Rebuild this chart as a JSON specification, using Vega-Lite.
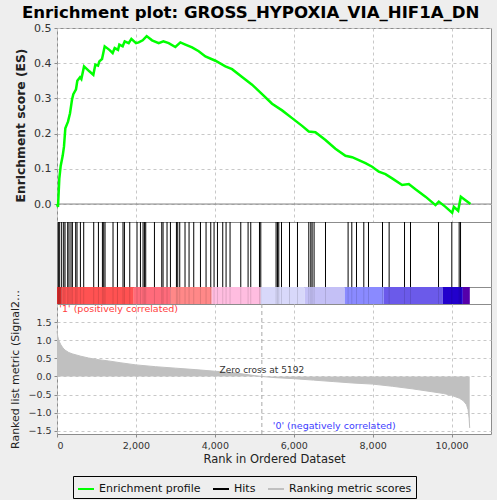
{
  "$schema": "https://vega.github.io/schema/vega-lite/v6.json",
  "padding": {"left": 9, "top": 4, "right": 5, "bottom": 2},
  "title": {
    "text": "Enrichment plot: GROSS_HYPOXIA_VIA_HIF1A_DN",
    "font": "DejaVu Sans",
    "fontSize": 16.6,
    "fontWeight": "bold",
    "color": "black",
    "anchor": "middle",
    "offset": 0
  },
  "datasets": {
    "es": [
      {"rank": 0, "es": 0}, {"rank": 25, "es": -0.008}, {"rank": 59, "es": 0.073}, {"rank": 93, "es": 0.108},
      {"rank": 144, "es": 0.137}, {"rank": 177, "es": 0.163}, {"rank": 211, "es": 0.215}, {"rank": 279, "es": 0.234},
      {"rank": 330, "es": 0.258}, {"rank": 380, "es": 0.296}, {"rank": 414, "es": 0.312}, {"rank": 482, "es": 0.326},
      {"rank": 515, "es": 0.35}, {"rank": 583, "es": 0.36}, {"rank": 617, "es": 0.355}, {"rank": 685, "es": 0.391},
      {"rank": 820, "es": 0.377}, {"rank": 921, "es": 0.367}, {"rank": 972, "es": 0.396}, {"rank": 1040, "es": 0.393},
      {"rank": 1073, "es": 0.405}, {"rank": 1141, "es": 0.412}, {"rank": 1209, "es": 0.448}, {"rank": 1327, "es": 0.438},
      {"rank": 1411, "es": 0.429}, {"rank": 1462, "es": 0.443}, {"rank": 1547, "es": 0.438}, {"rank": 1580, "es": 0.453},
      {"rank": 1665, "es": 0.448}, {"rank": 1716, "es": 0.462}, {"rank": 1817, "es": 0.457}, {"rank": 1885, "es": 0.469},
      {"rank": 2003, "es": 0.457}, {"rank": 2071, "es": 0.459}, {"rank": 2172, "es": 0.465}, {"rank": 2273, "es": 0.477},
      {"rank": 2409, "es": 0.465}, {"rank": 2578, "es": 0.457}, {"rank": 2696, "es": 0.462}, {"rank": 2831, "es": 0.457},
      {"rank": 3000, "es": 0.446}, {"rank": 3127, "es": 0.459}, {"rank": 3254, "es": 0.453}, {"rank": 3423, "es": 0.445},
      {"rank": 3592, "es": 0.434}, {"rank": 3761, "es": 0.419}, {"rank": 4015, "es": 0.407}, {"rank": 4268, "es": 0.391},
      {"rank": 4437, "es": 0.383}, {"rank": 4691, "es": 0.361}, {"rank": 4944, "es": 0.339}, {"rank": 5198, "es": 0.312},
      {"rank": 5451, "es": 0.285}, {"rank": 5705, "es": 0.266}, {"rank": 5958, "es": 0.244}, {"rank": 6212, "es": 0.222},
      {"rank": 6381, "es": 0.206}, {"rank": 6550, "es": 0.204}, {"rank": 6804, "es": 0.182}, {"rank": 7057, "es": 0.157},
      {"rank": 7311, "es": 0.137}, {"rank": 7480, "es": 0.133}, {"rank": 7649, "es": 0.125}, {"rank": 7818, "es": 0.116},
      {"rank": 7987, "es": 0.106}, {"rank": 8156, "es": 0.092}, {"rank": 8325, "es": 0.085}, {"rank": 8494, "es": 0.073},
      {"rank": 8747, "es": 0.054}, {"rank": 8917, "es": 0.057}, {"rank": 9086, "es": 0.042}, {"rank": 9339, "es": 0.021},
      {"rank": 9593, "es": -0.003}, {"rank": 9677, "es": 0.007}, {"rank": 9847, "es": -0.008}, {"rank": 10016, "es": -0.025},
      {"rank": 10058, "es": -0.008}, {"rank": 10168, "es": -0.019}, {"rank": 10235, "es": 0.021}, {"rank": 10353, "es": 0.011},
      {"rank": 10480, "es": 0.0}
    ],
    "hits": [
      {"rank": 35}, {"rank": 68}, {"rank": 119}, {"rank": 170}, {"rank": 203}, {"rank": 271}, {"rank": 304},
      {"rank": 355}, {"rank": 390}, {"rank": 474}, {"rank": 507}, {"rank": 593}, {"rank": 677}, {"rank": 931},
      {"rank": 1050}, {"rank": 1151}, {"rank": 1184}, {"rank": 1217}, {"rank": 1420}, {"rank": 1532}, {"rank": 1673},
      {"rank": 1709}, {"rank": 1844}, {"rank": 2028}, {"rank": 2115}, {"rank": 2181}, {"rank": 2216}, {"rank": 2249},
      {"rank": 2470}, {"rank": 2655}, {"rank": 2688}, {"rank": 2789}, {"rank": 2875}, {"rank": 3027}, {"rank": 3060},
      {"rank": 3111}, {"rank": 3245}, {"rank": 3347}, {"rank": 3466}, {"rank": 3636}, {"rank": 3778}, {"rank": 3897},
      {"rank": 3981}, {"rank": 4067}, {"rank": 4201}, {"rank": 4285}, {"rank": 4386}, {"rank": 4658}, {"rank": 4843},
      {"rank": 4911}, {"rank": 5132}, {"rank": 5165}, {"rank": 5553}, {"rank": 5588}, {"rank": 5621}, {"rank": 5690},
      {"rank": 5893}, {"rank": 6095}, {"rank": 6382}, {"rank": 6433}, {"rank": 6466}, {"rank": 6516}, {"rank": 6805},
      {"rank": 7378}, {"rank": 7472}, {"rank": 7591}, {"rank": 7776}, {"rank": 7895}, {"rank": 8250}, {"rank": 8418},
      {"rank": 8808}, {"rank": 8960}, {"rank": 9670}, {"rank": 10007}, {"rank": 10193}, {"rank": 10228}
    ],
    "bar": [
      {"seg": "s01", "start": 0, "end": 120},
      {"seg": "s02", "start": 120, "end": 1945},
      {"seg": "s03", "start": 1945, "end": 2883},
      {"seg": "s04", "start": 2883, "end": 3922},
      {"seg": "s05", "start": 3922, "end": 5165},
      {"seg": "s06", "start": 5165, "end": 6280},
      {"seg": "s07", "start": 6280, "end": 7295},
      {"seg": "s08", "start": 7295, "end": 8283},
      {"seg": "s09", "start": 8283, "end": 9779},
      {"seg": "s10", "start": 9779, "end": 10286},
      {"seg": "s11", "start": 10286, "end": 10463}
    ],
    "metric": [
      {"rank": 0, "metric": 1.25}, {"rank": 20, "metric": 1.1}, {"rank": 50, "metric": 0.98}, {"rank": 100, "metric": 0.87},
      {"rank": 150, "metric": 0.79}, {"rank": 200, "metric": 0.73}, {"rank": 300, "metric": 0.66}, {"rank": 400, "metric": 0.62},
      {"rank": 600, "metric": 0.56}, {"rank": 800, "metric": 0.51}, {"rank": 1000, "metric": 0.47}, {"rank": 1300, "metric": 0.43},
      {"rank": 1600, "metric": 0.38}, {"rank": 2000, "metric": 0.32}, {"rank": 2500, "metric": 0.27}, {"rank": 3000, "metric": 0.23},
      {"rank": 3500, "metric": 0.19}, {"rank": 4000, "metric": 0.145}, {"rank": 4500, "metric": 0.1}, {"rank": 5000, "metric": 0.025},
      {"rank": 5192, "metric": 0}, {"rank": 5500, "metric": -0.03}, {"rank": 6000, "metric": -0.06}, {"rank": 6500, "metric": -0.1},
      {"rank": 7000, "metric": -0.14}, {"rank": 7500, "metric": -0.18}, {"rank": 8000, "metric": -0.21}, {"rank": 8500, "metric": -0.27},
      {"rank": 9000, "metric": -0.34}, {"rank": 9500, "metric": -0.42}, {"rank": 9800, "metric": -0.47}, {"rank": 10000, "metric": -0.52},
      {"rank": 10200, "metric": -0.6}, {"rank": 10300, "metric": -0.67}, {"rank": 10380, "metric": -0.78}, {"rank": 10420, "metric": -0.92},
      {"rank": 10445, "metric": -1.15}, {"rank": 10460, "metric": -1.42}
    ],
    "one": [{}]
  },
  "spacing": 0,
  "bounds": "flush",
  "vconcat": [
    {
      "width": 434,
      "height": 194,
      "data": {"name": "es"},
      "layer": [
        {
          "data": {"name": "one"},
          "mark": {"type": "rule", "color": "#808080", "strokeWidth": 1},
          "encoding": {"y": {"datum": 0, "type": "quantitative"}}
        },
        {
          "mark": {"type": "line", "color": "#00ff00", "strokeWidth": 2.5},
          "encoding": {
            "x": {
              "field": "rank", "type": "quantitative",
              "scale": {"domain": [0, 11000], "nice": false},
              "axis": {"labels": false, "ticks": false, "title": null, "tickCount": 20, "values": [0, 2000, 4000, 6000, 8000, 10000]}
            },
            "y": {
              "field": "es", "type": "quantitative",
              "scale": {"domain": [-0.051, 0.5], "nice": false, "zero": false},
              "axis": {
                "title": "Enrichment score (ES)", "titleFontSize": 12.3, "titleFontWeight": "bold",
                "titlePadding": 6, "labelFontSize": 11, "format": ".1f", "labelOverlap": false,
                "tickCount": 20, "values": [0, 0.1, 0.2, 0.3, 0.4, 0.5]
              }
            }
          }
        }
      ]
    },
    {
      "width": 434,
      "height": 65,
      "data": {"name": "hits"},
      "mark": {"type": "rule", "color": "black", "strokeWidth": 1},
      "encoding": {
        "x": {"field": "rank", "type": "quantitative", "scale": {"domain": [0, 11000], "nice": false}, "axis": null}
      }
    },
    {
      "width": 434,
      "height": 17,
      "layer": [
        {
          "data": {"name": "bar"},
          "mark": {"type": "rect"},
          "encoding": {
            "x": {"field": "start", "type": "quantitative", "scale": {"domain": [0, 11000], "nice": false}, "axis": null},
            "x2": {"field": "end"},
            "fill": {
              "field": "seg", "type": "nominal", "legend": null,
              "scale": {
                "domain": ["s01", "s02", "s03", "s04", "s05", "s06", "s07", "s08", "s09", "s10", "s11"],
                "range": ["#d42a2a", "#ff5252", "#ff6b7b", "#ff8888", "#ffbde0", "#d8d8fa", "#c4c0f6", "#8a8aff", "#6b5aea", "#2200cc", "#5500aa"]
              }
            }
          }
        },
        {
          "data": {"name": "hits"},
          "mark": {"type": "rule", "color": "black", "strokeWidth": 1, "opacity": 0.12},
          "encoding": {"x": {"field": "rank", "type": "quantitative"}}
        }
      ]
    },
    {
      "width": 434,
      "height": 130,
      "data": {"name": "metric"},
      "layer": [
        {
          "mark": {"type": "area", "color": "#c0c0c0"},
          "encoding": {
            "x": {
              "field": "rank", "type": "quantitative",
              "scale": {"domain": [0, 11000], "nice": false},
              "axis": {
                "title": "Rank in Ordered Dataset", "titleFontSize": 11.5, "titleFontWeight": "normal",
                "labelFontSize": 9.5, "format": ",d", "labelOverlap": false,
                "tickCount": 20, "values": [0, 2000, 4000, 6000, 8000, 10000]
              }
            },
            "y": {
              "field": "metric", "type": "quantitative",
              "scale": {"domain": [-1.587, 2.0], "nice": false},
              "axis": {
                "title": "Ranked list metric (Signal2Noise)", "titleFontSize": 11, "titleFontWeight": "normal",
                "titlePadding": 7, "titleLimit": 165, "labelFontSize": 9.5, "format": ".1f", "labelOverlap": false,
                "tickCount": 20, "values": [-1.5, -1, -0.5, 0, 0.5, 1, 1.5]
              }
            }
          }
        },
        {
          "mark": {"type": "line", "strokeWidth": 1},
          "encoding": {
            "x": {"field": "rank", "type": "quantitative"},
            "y": {"field": "metric", "type": "quantitative"},
            "stroke": {
              "datum": "Ranking metric scores",
              "scale": {
                "domain": ["Enrichment profile", "Hits", "Ranking metric scores"],
                "range": ["#00ff00", "#000000", "#c0c0c0"]
              },
              "legend": {
                "orient": "none", "legendX": 16, "legendY": 448, "direction": "horizontal",
                "title": null, "strokeColor": "black", "padding": 4,
                "symbolType": "stroke", "symbolStrokeWidth": 2, "symbolSize": 256,
                "labelFontSize": 11, "labelColor": "#111", "columnPadding": 8
              }
            }
          }
        },
        {
          "data": {"name": "one"},
          "mark": {"type": "rule", "color": "#a8a8a8", "strokeDash": [4, 3]},
          "encoding": {"x": {"datum": 5192, "type": "quantitative"}}
        },
        {
          "data": {"name": "one"},
          "mark": {"type": "text", "fontSize": 9, "color": "#333333", "align": "center"},
          "encoding": {
            "x": {"datum": 5192, "type": "quantitative"},
            "y": {"datum": 0.19, "type": "quantitative"},
            "text": {"value": "Zero cross at 5192"}
          }
        },
        {
          "data": {"name": "one"},
          "mark": {"type": "text", "fontSize": 9.5, "color": "#ff4040", "align": "left"},
          "encoding": {
            "x": {"datum": 60, "type": "quantitative"},
            "y": {"datum": 1.85, "type": "quantitative"},
            "text": {"value": "'1' (positively correlated)"}
          }
        },
        {
          "data": {"name": "one"},
          "mark": {"type": "text", "fontSize": 9.5, "color": "#4040ff", "align": "center"},
          "encoding": {
            "x": {"datum": 7028, "type": "quantitative"},
            "y": {"datum": -1.36, "type": "quantitative"},
            "text": {"value": "'0' (negatively correlated)"}
          }
        }
      ]
    }
  ],
  "resolve": {"scale": {"x": "independent", "y": "independent"}},
  "config": {
    "background": "#eeeeee",
    "font": "DejaVu Sans",
    "view": {"stroke": "#8c8c8c", "fill": "white"},
    "axis": {
      "domain": false,
      "grid": true,
      "gridDash": [3, 3],
      "gridColor": "#c8c8c8",
      "tickColor": "#8c8c8c",
      "tickSize": 3,
      "labelPadding": 3,
      "labelColor": "#333333",
      "titleColor": "#222222",
      "labelFont": "DejaVu Sans",
      "titleFont": "DejaVu Sans"
    },
    "legend": {"labelFont": "DejaVu Sans"}
  }
}
